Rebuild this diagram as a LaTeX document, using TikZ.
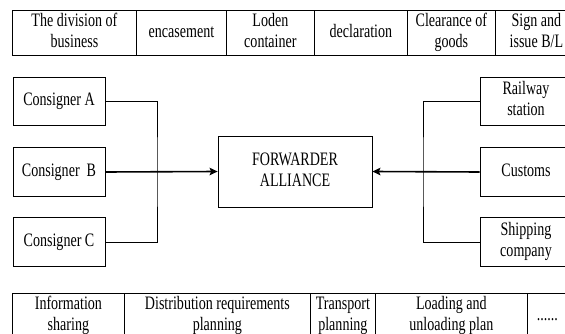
\documentclass[tikz,border=0pt]{standalone}
\usepackage{fontspec}
\setmainfont{Liberation Serif}
\usepackage{graphicx}
\usetikzlibrary{arrows.meta}
\newcommand{\sqz}[1]{\scalebox{0.74}[1]{\begin{tabular}{@{}c@{}}#1\end{tabular}}}
\begin{document}
\begin{tikzpicture}[x=1pt,y=-1pt,
  every node/.style={font=\fontsize{19}{21}\selectfont},
  cell/.style={draw, line width=0.8pt, minimum height=45pt, inner sep=0pt, anchor=north west},
  box/.style={draw, line width=0.8pt, inner sep=0pt},
  conn/.style={line width=0.8pt},
  arr/.style={line width=1.6pt, -{Stealth[length=8pt,width=7.5pt,inset=1.5pt]}}]
\useasboundingbox (0,0) rectangle (565,334);
% top table
\node[cell, minimum width=124pt] (t1) at (12,10) {\sqz{The division of\\business}};
\node[cell, minimum width=90pt]  (t2) at (136,10) {\sqz{encasement}};
\node[cell, minimum width=88pt]  (t3) at (226,10) {\sqz{Loden\\container}};
\node[cell, minimum width=93pt]  (t4) at (314,10) {\sqz{declaration}};
\node[cell, minimum width=88pt]  (t5) at (407,10) {\sqz{Clearance of\\goods}};
\node[cell, minimum width=82pt]  (t6) at (495,10) {\sqz{Sign and\\issue B/L}};
% bottom table
\node[cell, minimum width=112pt] (b1) at (12,293) {\sqz{Information\\sharing}};
\node[cell, minimum width=186pt] (b2) at (124,293) {\sqz{Distribution requirements\\planning}};
\node[cell, minimum width=65pt]  (b3) at (310,293) {\sqz{Transport\\planning}};
\node[cell, minimum width=152pt] (b4) at (375,293) {\sqz{Loading and\\unloading plan}};
\node[cell, minimum width=40pt]  (b5) at (527,293) {\sqz{......}};
% left boxes
\node[box, minimum width=92pt, minimum height=48pt] (ca) at (59,101) {\sqz{Consigner A}};
\node[box, minimum width=92pt, minimum height=49pt] (cb) at (59,172) {\sqz{Consigner\ \ B}};
\node[box, minimum width=92pt, minimum height=49pt] (cc) at (59,242) {\sqz{Consigner C}};
% centre
\node[box, minimum width=154pt, minimum height=71pt] (fw) at (295,171.5) {\sqz{FORWARDER\\ALLIANCE}};
% right boxes
\node[box, minimum width=92pt, minimum height=48pt] (rs) at (526,101) {\sqz{Railway\\station}};
\node[box, minimum width=92pt, minimum height=49pt] (cu) at (526,172) {\sqz{Customs}};
\node[box, minimum width=92pt, minimum height=49pt] (sc) at (526,242) {\sqz{Shipping\\company}};
% connectors
\coordinate (jl) at (157,172);
\coordinate (jr) at (423,172);
\draw[conn] (ca.east) -| (jl) |- (cc.east);
\draw[arr] (cb.east) -- (fw.west);
\draw[conn] (rs.west) -| (jr) |- (sc.west);
\draw[arr] (cu.west) -- (fw.east);
\end{tikzpicture}
\end{document}
